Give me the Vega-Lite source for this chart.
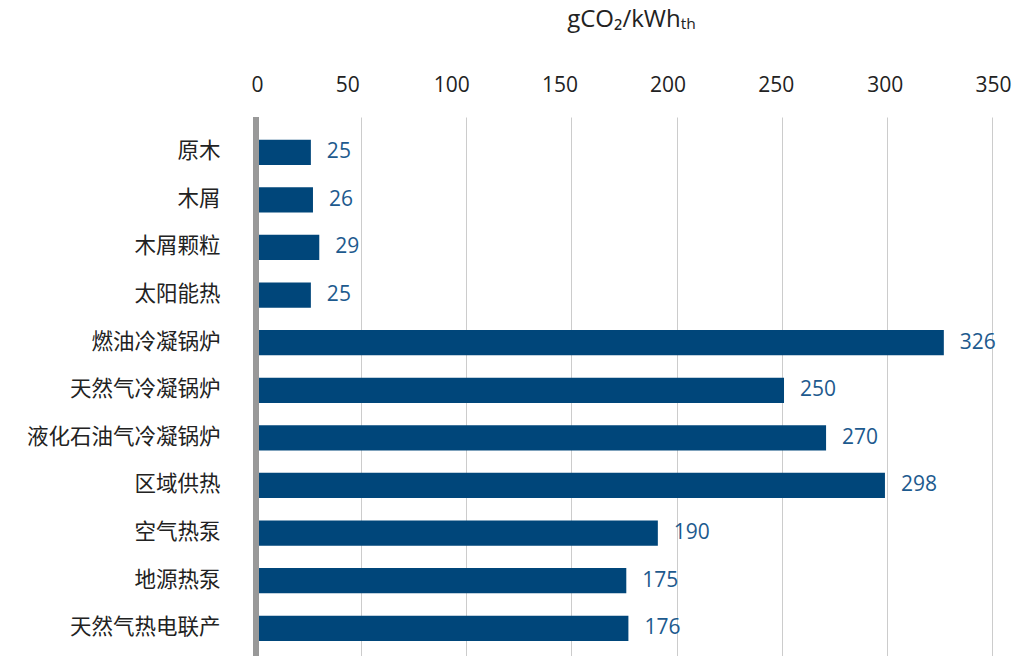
{
  "$schema": "https://vega.github.io/schema/vega-lite/v6.json",
  "width": 736,
  "height": 539,
  "autosize": "none",
  "padding": {"left": 256, "top": 117, "right": 44, "bottom": 0},
  "background": "white",
  "config": {"view": {"stroke": null}, "font": "Open Sans"},
  "data": {
    "values": [
      {"name": "原木", "value": 25},
      {"name": "木屑", "value": 26},
      {"name": "木屑颗粒", "value": 29},
      {"name": "太阳能热", "value": 25},
      {"name": "燃油冷凝锅炉", "value": 326},
      {"name": "天然气冷凝锅炉", "value": 250},
      {"name": "液化石油气冷凝锅炉", "value": 270},
      {"name": "区域供热", "value": 298},
      {"name": "空气热泵", "value": 190},
      {"name": "地源热泵", "value": 175},
      {"name": "天然气热电联产", "value": 176}
    ]
  },
  "encoding": {
    "y": {
      "field": "name",
      "type": "nominal",
      "sort": null,
      "scale": {"paddingInner": 0.47, "paddingOuter": 0.397, "align": 0.6},
      "axis": {
        "title": null,
        "domain": false,
        "ticks": false,
        "labelFont": "Noto Sans CJK SC",
        "labelFontSize": 21.5,
        "labelColor": "#222222",
        "labelPadding": 36,
        "labelLimit": 400
      }
    },
    "x": {
      "field": "value",
      "type": "quantitative",
      "scale": {"domain": [0, 350], "nice": false},
      "axis": {
        "orient": "top",
        "values": [0, 50, 100, 150, 200, 250, 300, 350],
        "grid": true,
        "gridColor": "#cccccc",
        "gridWidth": 1,
        "domain": false,
        "ticks": false,
        "labelFlush": false,
        "labelFontSize": 21,
        "labelColor": "#222222",
        "labelPadding": 22,
        "labelOffset": {
          "condition": [
            {"test": "datum.value == 0", "value": 1},
            {"test": "datum.value == 50", "value": -14},
            {"test": "datum.value == 100", "value": -15},
            {"test": "datum.value == 150", "value": -12},
            {"test": "datum.value == 200", "value": -9},
            {"test": "datum.value == 250", "value": -6},
            {"test": "datum.value == 300", "value": -2}
          ],
          "value": 1
        },
        "title": "gCO₂/kWhₜₕ",
        "titleFont": "Open Sans",
        "titleFontSize": 24,
        "titleFontWeight": "normal",
        "titleColor": "#222222",
        "titlePadding": 43,
        "titleX": 375
      }
    }
  },
  "layer": [
    {"mark": {"type": "bar", "color": "#00467a", "xOffset": 2.3}},
    {
      "mark": {"type": "text", "align": "left", "baseline": "middle", "dx": 16, "xOffset": 2.3, "fontSize": 21, "color": "#1d5a8e"},
      "encoding": {"text": {"field": "value", "type": "quantitative"}}
    },
    {
      "mark": {"type": "rule", "color": "#999999", "strokeWidth": 5.5},
      "encoding": {"x": {"datum": 0}, "y": null}
    }
  ]
}
